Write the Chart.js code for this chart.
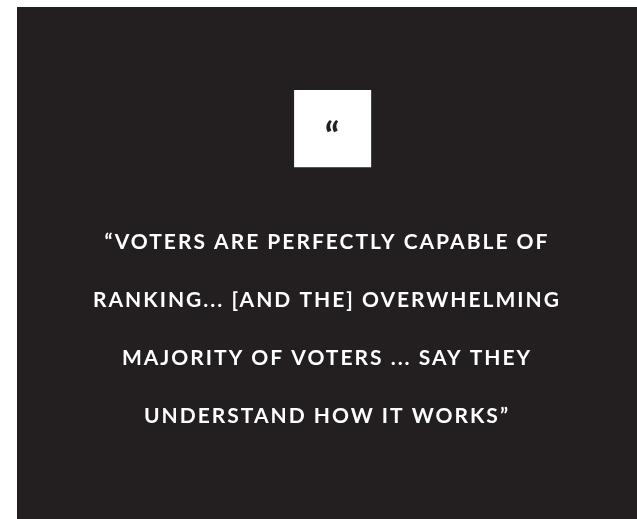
<!DOCTYPE html>
<html>
<head>
<meta charset="utf-8">
<script src="https://cdn.jsdelivr.net/npm/chart.js@4.4.1/dist/chart.umd.min.js"></script>
<style>
  html, body { margin: 0; padding: 0; background: #ffffff; }
  #wrap { position: absolute; left: 17px; top: 7px; width: 620px; height: 512px; background: #231f20; }
</style>
</head>
<body>
<div id="wrap"><canvas id="quoteChart"></canvas></div>
<script>
// texto de la cita, una entrada por linea
const quoteLines = [
    "\u201CVOTERS ARE PERFECTLY CAPABLE OF",
    "RANKING... [AND THE] OVERWHELMING",
    "MAJORITY OF VOTERS ... SAY THEY",
    "UNDERSTAND HOW IT WORKS\u201D"
];
// icono de comillas en el cuadro blanco
const iconLabels = ["\u201C"];
const iconX = [51.1];
const iconY = [55.7];

const bgColor = '#231f20';

// plugin: espaciado de letras y la comilla dentro del cuadro
const quotePlugin = {
    id: 'quotePlugin',
    beforeDraw(chart) {
        chart.ctx.letterSpacing = '2px';
    },
    afterDatasetsDraw(chart) {
        const ctx = chart.ctx;
        const meta = chart.getDatasetMeta(0);
        ctx.save();
        ctx.letterSpacing = '1px';
        ctx.fillStyle = bgColor;
        ctx.font = 'bold 38px Lato';
        ctx.textAlign = 'center';
        ctx.textBaseline = 'alphabetic';
        meta.data.forEach((pt, i) => {
            ctx.fillText(iconLabels[i], pt.x, pt.y + 21);
        });
        ctx.restore();
    }
};

const ctx = document.getElementById('quoteChart').getContext('2d');
new Chart(ctx, {
    type: 'scatter',
    data: {
        datasets: [{
            data: iconX.map((x, i) => ({ x: x, y: iconY[i] })),
            pointStyle: 'rect',
            pointRadius: 54.5,
            pointHoverRadius: 54.5,
            backgroundColor: '#ffffff',
            borderWidth: 0
        }]
    },
    options: {
        responsive: true,
        maintainAspectRatio: false,
        animation: false,
        events: [],
        layout: { padding: 0 },
        scales: {
            x: { display: false, min: 0, max: 100 },
            y: { display: false, min: 0, max: 100 }
        },
        plugins: {
            legend: { display: false },
            tooltip: { enabled: false },
            title: {
                display: true,
                position: 'bottom',
                text: quoteLines,
                color: '#ffffff',
                align: 'center',
                font: { family: 'Lato', weight: 'bold', size: 21, lineHeight: 58 / 21 },
                padding: { top: 0, bottom: 74 }
            }
        }
    },
    plugins: [quotePlugin]
});
</script>
</body>
</html>
